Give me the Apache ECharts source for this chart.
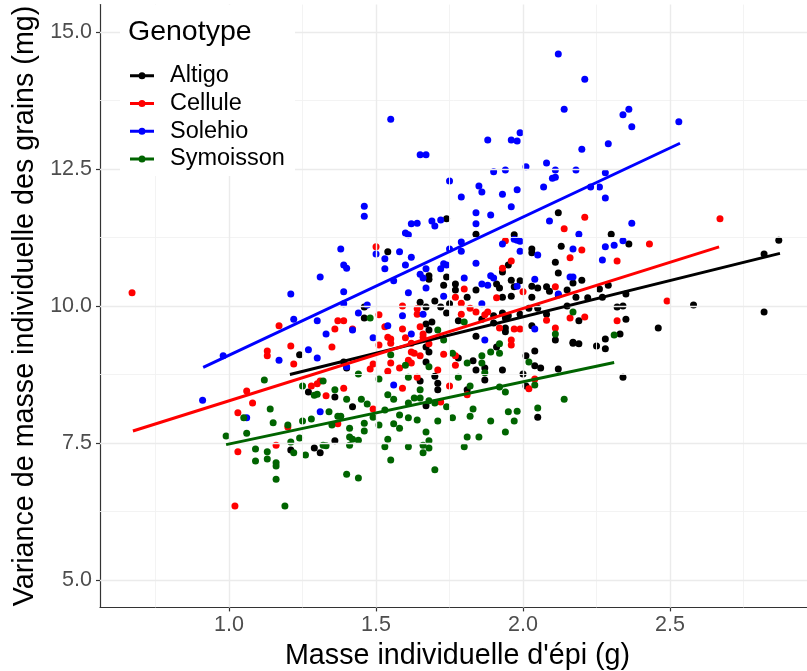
<!DOCTYPE html>
<html><head><meta charset="utf-8">
<script src="https://cdn.jsdelivr.net/npm/echarts@6/dist/echarts.min.js"></script>
<style>html,body{margin:0;padding:0;background:#fff}#c{width:807px;height:671px}</style>
</head><body><div id="c"></div>
<script>
const genotypes = ['Altigo','Cellule','Solehio','Symoisson'];
const colors = ['#000000','#FF0000','#0000FF','#006400'];

const altigo = [[2.30,11.31],[2.36,11.13],[2.87,11.20],[2.82,10.95],[2.20,10.47],[2.17,10.42],[2.26,10.31],[2.29,10.38],[2.18,10.16],[2.22,10.15],[2.27,10.16],[2.35,10.22],[2.58,10.02],[2.82,9.89],[2.32,9.98],[2.34,10.00],[2.35,9.76],[2.19,9.73],[2.46,9.60],[2.33,9.49],[2.28,9.40],[2.28,9.22],[2.17,9.32],[2.19,9.31],[2.25,9.27],[2.34,8.70],[1.74,11.59],[1.84,11.31],[1.97,11.30],[2.12,11.70],[2.13,11.09],[1.54,10.99],[2.03,11.04],[2.03,10.97],[2.11,10.80],[1.95,10.75],[2.12,10.60],[1.68,10.55],[1.68,10.49],[1.74,10.53],[1.93,10.62],[1.99,10.46],[1.96,10.47],[1.73,10.38],[1.77,10.40],[1.91,10.40],[1.92,10.33],[2.05,10.33],[1.77,10.29],[1.84,10.29],[2.09,10.27],[1.81,10.16],[1.93,10.16],[1.96,10.18],[1.65,10.07],[1.67,9.98],[1.70,10.09],[1.72,9.98],[1.75,10.04],[1.74,9.87],[2.03,10.16],[2.02,9.96],[2.05,9.96],[2.15,10.00],[1.46,9.98],[1.46,9.78],[1.67,9.67],[1.69,9.71],[1.78,9.73],[1.68,9.56],[1.94,9.78],[1.95,9.82],[1.90,9.69],[1.94,9.60],[2.03,9.64],[1.84,9.45],[1.91,9.25],[2.04,9.18],[2.01,9.09],[1.68,9.16],[1.97,10.35],[2.03,10.36],[2.08,10.35],[2.12,10.20],[2.15,10.29],[1.86,9.76],[1.90,9.82],[1.93,9.87],[1.99,9.85],[2.08,9.85],[1.94,9.53],[2.17,9.34],[2.11,9.38],[2.04,8.91],[2.06,8.87],[1.93,8.83],[2.00,8.76],[2.12,8.85],[1.83,9.00],[1.84,8.83],[1.87,8.87],[1.87,8.65],[1.81,8.47],[2.05,7.97],[1.78,9.05],[1.42,8.16],[1.67,8.18],[1.71,8.59],[1.71,8.47],[1.70,8.72],[1.65,8.63],[2.01,8.54],[1.27,8.43],[1.36,8.34],[1.21,7.37],[1.29,7.41],[1.31,7.32],[1.36,7.54],[1.24,9.11],[1.67,9.25],[1.67,8.98],[1.40,8.87],[1.39,8.98]];

const cellule = [[0.67,10.24],[1.02,6.35],[2.67,11.59],[1.17,9.64],[1.21,9.27],[1.13,9.18],[1.13,9.09],[1.37,9.73],[1.36,9.58],[1.35,9.25],[1.06,8.45],[1.08,8.23],[1.03,8.05],[1.03,7.34],[1.16,7.46],[1.20,7.79],[1.22,8.94],[1.28,8.54],[1.30,8.58],[1.31,8.63],[1.33,8.36],[1.37,7.85],[2.21,11.62],[2.20,11.02],[2.32,10.82],[2.43,11.13],[2.16,10.88],[2.49,10.09],[2.21,9.80],[2.32,9.73],[2.16,9.78],[1.50,11.08],[1.94,11.19],[1.96,10.82],[1.93,10.69],[2.14,11.41],[1.80,10.31],[1.91,10.15],[1.77,10.16],[1.59,10.00],[1.51,9.84],[1.64,9.95],[1.64,9.85],[1.84,9.89],[1.82,9.96],[1.87,9.84],[2.08,9.74],[2.11,10.35],[2.11,9.60],[1.97,9.58],[1.99,9.58],[1.96,9.38],[1.53,9.62],[1.59,9.58],[1.39,9.73],[1.42,9.58],[1.54,9.43],[1.55,9.40],[1.55,9.32],[1.65,9.62],[1.66,9.43],[1.66,9.49],[1.62,9.32],[1.68,9.31],[1.51,9.29],[1.73,9.12],[1.62,9.16],[1.65,9.09],[1.77,9.09],[1.96,9.29],[1.60,9.42],[1.63,9.14],[1.61,9.01],[1.49,8.94],[1.48,8.85],[1.54,8.81],[1.58,8.87],[1.64,8.70],[1.59,8.50],[1.71,8.83],[1.75,8.54],[1.39,8.50],[1.49,8.12],[1.62,8.96],[1.79,10.05],[1.79,9.85],[1.88,9.89],[2.00,10.26],[1.92,9.60],[1.77,8.92],[1.81,8.38],[2.02,8.49],[2.04,8.67],[1.55,8.96],[1.72,8.25]];

const solehio = [[2.12,14.60],[2.14,13.59],[1.55,13.41],[1.88,13.03],[1.96,13.03],[1.98,13.01],[1.99,13.16],[1.65,12.76],[1.67,12.76],[1.90,12.45],[1.94,12.48],[2.01,12.54],[2.08,12.61],[2.11,12.48],[2.11,12.35],[2.10,12.33],[1.75,12.28],[1.85,12.19],[1.98,12.12],[2.07,12.17],[2.21,14.14],[2.34,13.49],[2.36,13.59],[2.37,13.27],[2.53,13.36],[2.20,12.86],[2.29,12.96],[2.18,12.48],[2.28,12.43],[2.23,12.17],[2.26,12.17],[2.28,11.97],[2.37,11.51],[2.19,11.31],[2.28,11.08],[2.31,11.11],[2.34,11.19],[2.27,10.84],[2.17,11.04],[2.17,10.53],[1.46,11.82],[1.46,11.64],[1.79,11.99],[1.86,12.08],[1.93,12.04],[1.96,11.81],[1.84,11.70],[1.89,11.66],[1.84,11.50],[2.09,11.55],[1.69,11.55],[1.70,11.46],[1.72,11.57],[1.62,11.50],[1.64,11.51],[1.60,11.33],[1.61,11.30],[1.79,11.17],[1.79,11.00],[1.75,11.04],[1.38,11.04],[1.50,10.95],[1.53,10.86],[1.58,10.99],[1.62,10.89],[1.97,11.22],[1.98,11.20],[1.99,11.18],[1.93,11.13],[2.05,10.93],[1.99,11.00],[1.39,10.75],[1.40,10.69],[1.53,10.68],[1.60,10.75],[1.56,10.46],[1.65,10.58],[1.67,10.68],[1.66,10.51],[1.72,10.68],[1.73,10.77],[1.74,10.75],[1.84,10.78],[1.80,10.51],[1.89,10.55],[1.90,10.51],[1.86,10.40],[2.04,10.49],[1.98,10.36],[1.67,10.33],[1.61,10.24],[1.39,10.26],[1.73,10.18],[1.39,10.04],[1.47,10.02],[1.44,9.87],[1.59,9.82],[1.42,9.56],[1.54,9.64],[1.62,9.49],[1.49,9.42],[1.87,9.38],[2.04,9.58],[2.12,10.22],[2.16,10.53],[1.31,10.53],[1.21,10.22],[1.22,9.76],[1.30,9.73],[1.33,9.49],[1.27,9.20],[1.30,9.05],[1.17,9.01],[0.98,9.09],[0.91,8.28],[1.06,7.96],[1.31,8.07],[1.56,8.56],[1.40,8.89],[1.88,10.38],[1.86,10.04],[1.66,9.85]];

const symoisson = [[1.12,8.65],[1.25,8.54],[1.30,8.39],[1.29,8.37],[1.32,8.63],[1.36,8.47],[1.14,8.12],[1.05,7.96],[1.15,7.87],[1.20,7.83],[1.25,7.90],[1.28,7.94],[1.34,8.07],[1.37,7.99],[0.99,7.63],[1.06,7.68],[1.21,7.52],[1.24,7.59],[1.09,7.39],[1.13,7.34],[1.13,7.21],[1.09,7.17],[1.16,7.14],[1.16,7.08],[1.22,7.32],[1.26,7.28],[1.32,7.46],[1.33,7.45],[1.16,6.84],[1.19,6.35],[1.35,7.83],[1.44,8.76],[1.51,8.67],[1.61,8.70],[1.60,8.92],[1.68,8.89],[1.65,8.47],[1.65,8.32],[1.63,8.32],[1.54,8.38],[1.56,8.30],[1.61,8.23],[1.40,8.30],[1.45,8.30],[1.47,8.21],[1.53,8.10],[1.58,8.01],[1.68,8.27],[1.70,8.23],[1.74,8.16],[1.78,8.70],[1.82,8.54],[1.87,8.78],[1.81,8.96],[1.94,8.43],[1.92,8.52],[1.83,8.12],[1.82,7.99],[1.76,7.96],[1.95,8.07],[1.98,8.08],[1.97,7.90],[1.89,7.90],[1.94,7.70],[2.05,8.14],[2.14,8.30],[2.04,8.56],[1.38,7.99],[1.41,7.77],[1.46,7.86],[1.46,7.72],[1.51,7.83],[1.56,7.85],[1.58,7.77],[1.61,7.96],[1.64,7.92],[1.71,7.90],[1.41,7.61],[1.42,7.57],[1.44,7.55],[1.41,7.46],[1.54,7.57],[1.53,7.43],[1.61,7.43],[1.66,7.46],[1.66,7.32],[1.68,7.54],[1.68,7.41],[1.67,7.70],[1.55,7.19],[1.70,7.01],[1.40,6.93],[1.44,6.86],[1.81,7.61],[1.85,7.61],[1.80,7.43],[1.48,9.78],[1.80,9.71],[2.11,9.49],[1.73,9.38],[1.92,9.31],[1.92,9.14],[1.86,9.09],[1.76,9.14],[1.55,9.11],[1.71,9.56],[1.89,9.16],[1.86,8.96],[2.02,8.98],[2.17,9.89],[1.49,7.97],[2.31,9.47]];

// fitted regression lines (endpoints)
const fitAltigo = [[1.207,8.75],[2.874,10.96]];
const fitCellule = [[0.673,7.72],[2.667,11.08]];
const fitSolehio = [[0.912,8.88],[2.534,12.97]];
const fitSymoisson = [[0.99,7.47],[2.31,8.97]];

const xTicks = [1.0,1.5,2.0,2.5];
const xMinor = [0.75,1.25,1.75,2.25,2.75];
const yTicks = [5.0,7.5,10.0,12.5,15.0];
const yMinor = [6.25,8.75,11.25,13.75];

const pointSets = [altigo, cellule, solehio, symoisson];
const fitSets = [fitAltigo, fitCellule, fitSolehio, fitSymoisson];

const FONT = 'Liberation Sans';
const chart = echarts.init(document.getElementById('c'), null, {renderer:'canvas'});

const gridMajor = {color:'#EBEBEB', width:1.4, type:'solid'};
const gridMinor = {color:'#F2F2F2', width:0.9, type:'solid'};
const markData = [];
xMinor.forEach(v => markData.push({xAxis:v, lineStyle:gridMinor}));
yMinor.forEach(v => markData.push({yAxis:v, lineStyle:gridMinor}));
xTicks.forEach(v => markData.push({xAxis:v, lineStyle:gridMajor}));
yTicks.forEach(v => markData.push({yAxis:v, lineStyle:gridMajor}));

const series = [{
  type:'line', name:'_grid', data:[], silent:true, z:0,
  markLine:{silent:true, symbol:['none','none'], label:{show:false}, animation:false, data:markData, emphasis:{disabled:true}}
}];
pointSets.forEach((d,i) => series.push({
  type:'scatter', name:genotypes[i], data:d, symbol:'circle', symbolSize:7,
  itemStyle:{color:colors[i], opacity:1}, z:3, silent:true
}));
fitSets.forEach((d,i) => series.push({
  type:'line', name:genotypes[i], data:d, showSymbol:false, symbol:'none',
  lineStyle:{color:colors[i], width:3}, itemStyle:{color:colors[i]}, z:5, silent:true
}));

const legendIcon = 'path://M0,2L24,2L24,5L0,5Z M15.5,3.5A3.5,3.5,0,1,1,8.5,3.5A3.5,3.5,0,1,1,15.5,3.5Z';

chart.setOption({
  animation:false,
  backgroundColor:'#ffffff',
  textStyle:{fontFamily:FONT},
  grid:{left:100, right:0, top:4.6, bottom:63.6, containLabel:false, outerBoundsMode:'none'},
  xAxis:{
    type:'value', min:0.561, max:2.966,
    name:"Masse individuelle d'épi (g)", nameLocation:'middle', nameGap:30,
    nameTextStyle:{fontFamily:FONT, fontSize:28.7, color:'#000', padding:[0,0,0,8]},
    axisLine:{show:true, onZero:false, lineStyle:{color:'#333333', width:1.2}},
    axisTick:{show:true, length:4, customValues:xTicks, lineStyle:{color:'#333333', width:1.2}},
    axisLabel:{customValues:xTicks, margin:7, fontFamily:FONT, fontSize:21.5, color:'#4D4D4D', formatter:v=>Number(v).toFixed(1)},
    splitLine:{show:false}, minorSplitLine:{show:false}
  },
  yAxis:{
    type:'value', min:4.5, max:15.5,
    name:'Variance de masse individuelle des grains (mg)', nameLocation:'middle', nameGap:56, nameRotate:90,
    nameTextStyle:{fontFamily:FONT, fontSize:28.7, color:'#000'},
    axisLine:{show:true, onZero:false, lineStyle:{color:'#333333', width:1.2}},
    axisTick:{show:true, length:4, customValues:yTicks, lineStyle:{color:'#333333', width:1.2}},
    axisLabel:{customValues:yTicks, margin:8, fontFamily:FONT, fontSize:21.5, color:'#4D4D4D', formatter:v=>Number(v).toFixed(1)},
    splitLine:{show:false}
  },
  legend:{
    show:true, orient:'vertical', left:130, top:62, padding:0, itemGap:0,
    itemWidth:24, itemHeight:7, z:60, zlevel:0, selectedMode:false,
    data:genotypes.map(g => ({name:g, icon:legendIcon})),
    textStyle:{fontFamily:FONT, fontSize:23.5, color:'#000', lineHeight:27.7, padding:[0,0,0,11]}
  },
  graphic:[
    {type:'rect', shape:{x:120, y:5, width:175, height:171}, style:{fill:'#ffffff'}, z:50, silent:true},
    {type:'text', left:128, top:18, style:{text:'Genotype', fontFamily:FONT, fontSize:28.5, fill:'#000'}, z:60, silent:true}
  ],
  series:series
});
</script></body></html>
